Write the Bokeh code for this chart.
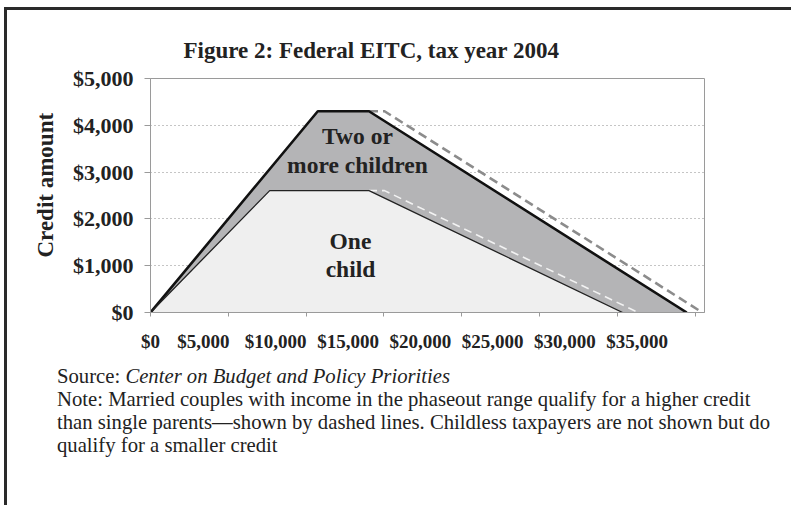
from bokeh.plotting import figure
from bokeh.models import FixedTicker, Range1d, Title, Div
from bokeh.layouts import column
from bokeh.core.properties import value
from bokeh.embed import file_html
from bokeh.resources import INLINE

# ---------------- data ----------------
income_two = [0, 10750, 14040, 34458]
credit_two = [0, 4300, 4300, 0]
income_one = [0, 7660, 14040, 30338]
credit_one = [0, 2604, 2604, 0]
income_two_married = [14040, 15040, 35458]
credit_two_married = [4300, 4300, 0]
income_one_married = [14040, 15040, 31338]
credit_one_married = [2604, 2604, 0]

y_ticks = [0, 1000, 2000, 3000, 4000, 5000]
y_tick_labels = ["$0", "$1,000", "$2,000", "$3,000", "$4,000", "$5,000"]
x_ticks = [0, 5000, 10000, 15000, 20000, 25000, 30000, 35000]
x_tick_labels = ["$0", "$5,000", "$10,000", "$15,000", "$20,000", "$25,000", "$30,000", "$35,000"]

title_text = "Figure 2: Federal EITC, tax year 2004"
y_title = "Credit amount"
source_label = "Source:"
source_text = "Center on Budget and Policy Priorities"
note_lines = [
    "Note: Married couples with income in the phaseout range qualify for a higher credit",
    "than single parents\u2014shown by dashed lines. Childless taxpayers are not shown but do",
    "qualify for a smaller credit",
]

SERIF = "Liberation Serif"

# labels in the original sit slightly left of their tick marks
label_pos = [max(0, round(t * 0.9287 - 1239)) for t in x_ticks]

p = figure(width=784, height=345, output_backend="svg", toolbar_location=None,
           x_range=Range1d(0, 35600), y_range=Range1d(0, 5000),
           min_border_left=143, min_border_right=87, min_border_top=68, min_border_bottom=43)
p.background_fill_color = "white"
p.border_fill_color = "white"
p.outline_line_color = "#9a9a9a"
p.outline_line_width = 1

# title
p.title.text = title_text
p.title.align = "left"
p.title.offset = 33
p.title.text_font = SERIF
p.title.text_font_style = "bold"
p.title.text_font_size = "23px"
p.title.text_color = "#222222"
p.title.standoff = 31

# grid
p.xgrid.visible = False
p.ygrid.ticker = FixedTicker(ticks=y_ticks[1:-1])
p.ygrid.grid_line_color = "#8a8a8a"
p.ygrid.grid_line_dash = "1 3"
p.ygrid.grid_line_width = 1

# y axis
ya = p.yaxis[0]
ya.ticker = FixedTicker(ticks=y_ticks)
ya.major_label_overrides = {t: l for t, l in zip(y_ticks, y_tick_labels)}
ya.major_label_text_font = SERIF
ya.major_label_text_font_style = "bold"
ya.major_label_text_font_size = "22px"
ya.major_label_text_color = "#222222"
ya.major_label_standoff = 11
ya.major_tick_out = 6
ya.major_tick_in = 0
ya.minor_tick_out = 0
ya.axis_line_color = "#9a9a9a"
ya.major_tick_line_color = "#9a9a9a"

# y axis title (as a side title so it can sit a little above centre, like the original)
p.add_layout(Title(text=y_title, align="left", offset=55, standoff=23,
                   text_font=SERIF, text_font_style="bold", text_font_size="23px",
                   text_color="#222222"), "left")

# x axis
xa = p.xaxis[0]
xa.ticker = FixedTicker(ticks=label_pos, minor_ticks=x_ticks)
xa.major_label_overrides = {lp: l for lp, l in zip(label_pos, x_tick_labels)}
xa.major_label_text_font = SERIF
xa.major_label_text_font_style = "bold"
xa.major_label_text_font_size = "19px"
xa.major_label_text_color = "#222222"
xa.major_label_standoff = 14
xa.major_tick_out = 0
xa.major_tick_in = 0
xa.minor_tick_out = 4
xa.minor_tick_in = 0
xa.minor_tick_line_color = "#9a9a9a"
xa.axis_line_color = "#9a9a9a"

# areas
p.patch(income_two, credit_two, fill_color="#b4b4b6", line_color=None)
p.patch(income_one, credit_one, fill_color="#efefef", line_color=None)

# married (dashed) lines
p.line(income_two_married, credit_two_married, line_color="#8c8c8c", line_width=2.6, line_dash="9 5")
p.line(income_one_married, credit_one_married, line_color="#f2f2f2", line_width=1.6, line_dash="8 5")

# single-parent outlines
p.line(income_two, credit_two, line_color="#111111", line_width=2.6)
p.line(income_one, credit_one, line_color="#222222", line_width=1.3)

# in-chart labels
p.text(x=[13300, 13300], y=[3761, 3162], text=["Two or", "more children"],
       text_font=value(SERIF), text_font_style="bold", text_font_size="23.5px",
       text_color="#222222", text_align="center", text_baseline="middle")
p.text(x=[12850, 12850], y=[1538, 940], text=["One", "child"],
       text_font=value(SERIF), text_font_style="bold", text_font_size="23.5px",
       text_color="#222222", text_align="center", text_baseline="middle")

# source and note below the chart
notes_html = (f"{source_label} <i>{source_text}</i><br>" + "<br>".join(note_lines))
notes = Div(text=notes_html, width=784, height=148,
            styles={"font-family": f"'{SERIF}', serif", "font-size": "20.7px",
                    "line-height": "23px", "color": "#222222", "white-space": "nowrap",
                    "padding-left": "45px", "padding-top": "5px", "box-sizing": "border-box"})

layout = column(p, notes, spacing=0, margin=(7, 0, 0, 4),
                styles={"border-left": "3px solid #2a2a2a", "border-top": "3px solid #2a2a2a",
                        "background-color": "white"})

open("out.html", "w").write(file_html(layout, INLINE))
